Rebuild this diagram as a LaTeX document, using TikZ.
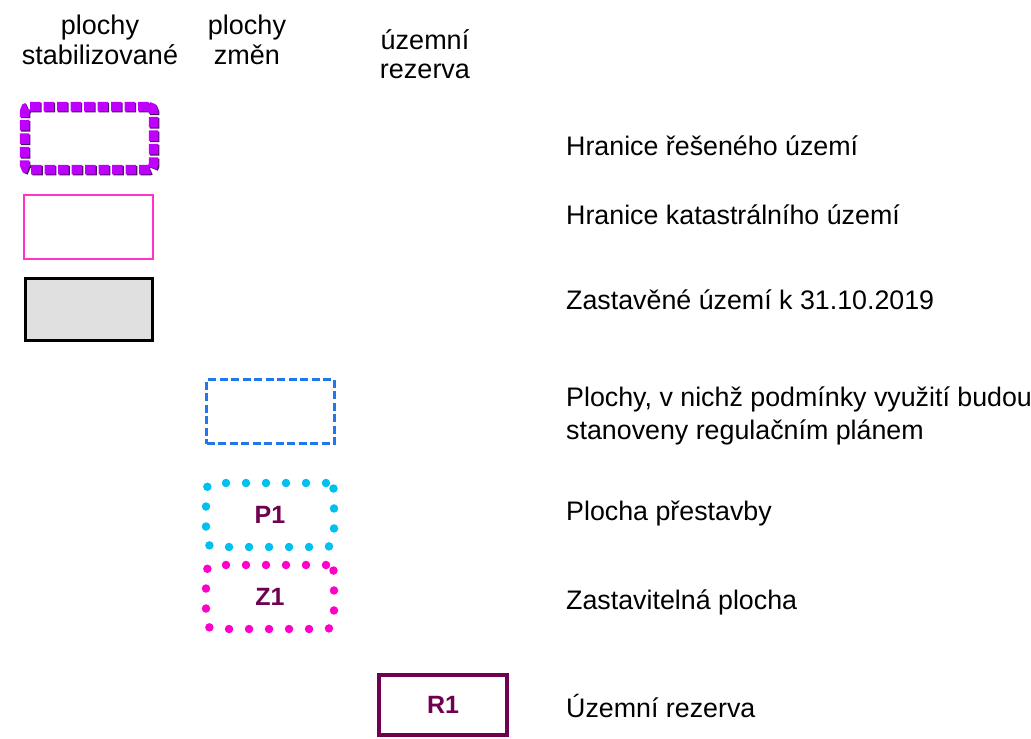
\documentclass[tikz,border=0pt]{standalone}
\usepackage{fontspec}
\setmainfont{Liberation Sans}
\definecolor{violetbox}{HTML}{C000FF}
\definecolor{violetshadow}{HTML}{4A1060}
\definecolor{pinkline}{HTML}{FF33CC}
\definecolor{grayfill}{HTML}{E0E0E0}
\definecolor{blueline}{HTML}{2277EE}
\definecolor{cyandot}{HTML}{00C0F0}
\definecolor{magentadot}{HTML}{FF00CC}
\definecolor{wine}{HTML}{700050}
\begin{document}
\begin{tikzpicture}[x=1pt,y=-1pt,
  lbl/.style={anchor=west,inner sep=0pt,font=\fontsize{26.8}{33}\selectfont},
  head/.style={align=center,inner sep=0pt,font=\fontsize{27}{29.5}\selectfont},
  boxbase/.style={inner sep=0pt,minimum width=129pt,minimum height=64pt},
  violetframe/.style={boxbase,draw=violetbox,line width=9.5pt,rounded corners=5pt,
     dash pattern=on 10.5pt off 3pt,
     preaction={draw=violetshadow,line width=9.5pt,dash pattern=on 10.5pt off 3pt,
       transform canvas={xshift=1.2pt,yshift=-1.2pt}}},
  pinkframe/.style={boxbase,draw=pinkline,line width=1.5pt},
  grayframe/.style={boxbase,draw=black,fill=grayfill,line width=3.5pt,minimum width=127pt,minimum height=62pt},
  blueframe/.style={boxbase,draw=blueline,line width=2.5pt,dash pattern=on 8pt off 3.5pt,minimum width=128pt},
  dotframe/.style={boxbase,line width=8.5pt,line cap=round,dash pattern=on 0pt off 20pt,rounded corners=8pt,
     minimum width=128pt,font=\bfseries\fontsize{25}{30}\selectfont,text=wine},
  wineframe/.style={boxbase,draw=wine,line width=4pt,minimum width=128pt,minimum height=60pt,
     font=\bfseries\fontsize{25}{30}\selectfont,text=wine}]
\useasboundingbox (0,0) rectangle (1031,739);
% column headings
\node[head] (h1) at (100,40) {plochy\\stabilizované};
\node[head] (h2) at (247,40) {plochy\\změn};
\node[head] (h3) at (425,54) {územní\\rezerva};
% symbols
\node[violetframe,minimum height=63pt] (s1) at (89,138) {};
\node[pinkframe] (s2) at (88.5,227) {};
\node[grayframe] (s3) at (89,309.5) {};
\node[blueframe] (s4) at (270.5,411.5) {};
\node[dotframe,draw=cyandot] (s5) at (270,515) {P1};
\node[dotframe,draw=magentadot] (s6) at (270,597) {Z1};
\node[wineframe] (s7) at (443,705) {R1};
% labels
\node[lbl] (t1) at (566,146) {Hranice řešeného území};
\node[lbl] (t2) at (566,215) {Hranice katastrálního území};
\node[lbl] (t3) at (566,300) {Zastavěné území k 31.10.2019};
\node[lbl,align=left] (t4) at (566,416) {Plochy, v nichž podmínky využití budou\\stanoveny regulačním plánem};
\node[lbl] (t5) at (566,514) {Plocha přestavby};
\node[lbl] (t6) at (566,602) {Zastavitelná plocha};
\node[lbl] (t7) at (566,706) {Územní rezerva};
\end{tikzpicture}
\end{document}
